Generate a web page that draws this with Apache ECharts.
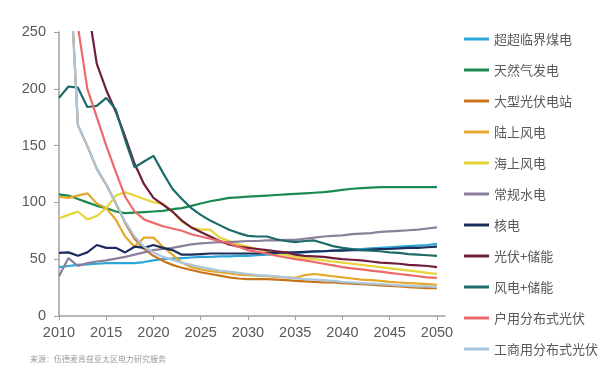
<!DOCTYPE html>
<html>
<head>
<meta charset="utf-8">
<script src="https://cdn.jsdelivr.net/npm/echarts@6/dist/echarts.min.js"></script>
<style>html,body{margin:0;padding:0;background:#fff}#c{width:616px;height:371px}</style>
</head>
<body>
<div id="c"></div>
<script>
const years = [];
for (let y = 2010; y <= 2050; y++) years.push(y);
const xTicks = [2010, 2015, 2020, 2025, 2030, 2035, 2040, 2045, 2050];
const seriesNames = ['超超临界煤电','天然气发电','大型光伏电站','陆上风电','海上风电','常规水电','核电','光伏+储能','风电+储能','户用分布式光伏','工商用分布式光伏'];
const coal = [43,44,45,45.5,46,46.5,46.5,46.5,46.5,47.5,49,50,50.5,51,51.5,52,52,52.5,52.5,53,53,53.5,54,54.5,55,55.5,56,56.5,57,57.5,58,58.5,59,59.5,60,60.5,61,61.5,62,62.5,63.5];
const gas = [107,106,103,100,97,95,92,90.5,91,91.5,92,92.5,94,95,97,99,101,102.5,104,104.5,105,105.5,106,106.5,107,107.5,108,108.5,109,110,111,112,112.5,113,113.5,113.5,113.5,113.5,113.5,113.5,113.5];
const utilityPV = [370,330,168,149.5,129.5,115.5,99.5,82,68,59,53,48.5,45,42.5,40.5,38.5,37,35.5,34,33,32.5,32.5,32.5,32,31.5,31,30.5,30,29.5,29.5,29,28.5,28,27.5,27,26.5,26,25.5,25,24.5,24.5];
const onshoreWind = [105,104,106,108,99,95,85,70,61,69,69,61,54,47,43,41,39.5,38.5,37.5,36.5,36,35.5,35,34.5,34,33.5,36,37,36,35,34,33,32,31.5,31,30,29.5,29,28.5,28,27.5];
const offshoreWind = [86,89,92,85,88,95,106,109,106,103,100,99,92,83,78,76,76,69,66,63,61,59,57,55,53.5,52,51,50,49,48,47,46,45,44,43,42,41,40,39,38,37];
const hydro = [35,51,44,46.5,48,49,50.5,52,54,56,58,59,60,61.5,63,64,64.5,65,65,65.5,66,66,66.5,66.5,67,67,68,69,70,70.5,71,72,72.5,73,74,74.5,75,75.5,76,77,78];
const nuclear = [55.5,56,53,56,62.5,60,60,56,61,60,62.5,60,58,54,54,54.5,55,55,55,55,55,55,55.5,55.5,56,56,56.5,57,57,57.5,57.5,58,58,58.5,59,59,59.5,60,60,60.5,61];
const pvStorage = [400,360,320,275,222,199,180,158,134,116,104,98,92,84,78,74,70,66,63,61,60,59,58,57,56,54,53,52.5,52,51,50,49.5,49,48,47,46.5,46,45,44.5,44,43];
const windStorage = [192,202,201,184,185,192,182,155,131,136,141,126,112,103,95,89,84,80,76,73,70.5,70,70,67.5,66,65,66,66.5,64,61.5,60,59,58,57.5,57,56,55.5,54.5,54,53.5,53];
const residentialPV = [350,300,255,200,175,150,127,105,92,85,82,79,77,75,72,70,68,66,64,61,58,56.5,55,53,51.5,50,49,47.5,46,44.5,43,42,41,40,39,38,37,36,35,34,33.5];
const commercialPV = [370,330,168,150,130,116,100,83,70,61,56,52,49.5,47,45,43,41.5,40,39,38,37,36,35.5,35,34,33,32.5,32,31.5,31,30,29.5,29,28.5,28,27.5,27,26.5,26,26,25.5];
const yTicks = [0, 50, 100, 150, 200, 250];
const sourceText = '来源：伍德麦肯兹亚太区电力研究服务';

const allData = [coal, gas, utilityPV, onshoreWind, offshoreWind, hydro, nuclear, pvStorage, windStorage, residentialPV, commercialPV];
const colors = ['#2aa6d8','#1b8a50','#c8741e','#e3a82c','#e6d43a','#8b7f9b','#1c2f5c','#6e1f3e','#1d6a68','#ee6a6a','#aac6df'];

const chart = echarts.init(document.getElementById('c'), null, {renderer: 'canvas'});
chart.setOption({
  animation: false,
  backgroundColor: '#fff',
  color: colors,
  title: {
    text: sourceText,
    left: 25, top: 350,
    textStyle: {fontSize: 8, fontWeight: 'normal', color: '#9a9a9a', fontFamily: 'Noto Sans CJK SC'}
  },
  grid: {left: 59, right: 171, top: 32, bottom: 55},
  legend: {
    orient: 'vertical',
    left: 459, top: 26,
    icon: 'rect',
    itemWidth: 25, itemHeight: 3,
    itemGap: 15,
    textStyle: {fontSize: 13, color: '#595959', fontFamily: 'Noto Sans CJK SC', lineHeight: 16},
    data: seriesNames
  },
  xAxis: {
    type: 'value',
    min: 2010, max: 2050.85,
    interval: 5,
    axisLine: {lineStyle: {color: '#a0a0a0', width: 1.5}},
    axisTick: {show: true, length: 4, lineStyle: {color: '#a0a0a0'}, customValues: xTicks},
    axisLabel: {fontSize: 14.5, color: '#595959', fontFamily: 'Liberation Sans', margin: 9, customValues: xTicks, formatter: v => String(v)},
    splitLine: {show: false}
  },
  yAxis: {
    type: 'value',
    min: 0, max: 250, interval: 50,
    axisLine: {show: true, lineStyle: {color: '#a0a0a0', width: 1.5}},
    axisTick: {show: true, length: 5, lineStyle: {color: '#a0a0a0'}},
    axisLabel: {fontSize: 14.5, color: '#595959', fontFamily: 'Liberation Sans', margin: 13},
    splitLine: {show: false}
  },
  series: seriesNames.map((name, i) => ({
    name: name,
    type: 'line',
    showSymbol: false,
    symbol: 'none',
    clip: true,
    lineStyle: {width: 2.2, color: colors[i]},
    itemStyle: {color: colors[i]},
    data: years.map((y, k) => [y, allData[i][k]])
  }))
});
</script>
</body>
</html>
